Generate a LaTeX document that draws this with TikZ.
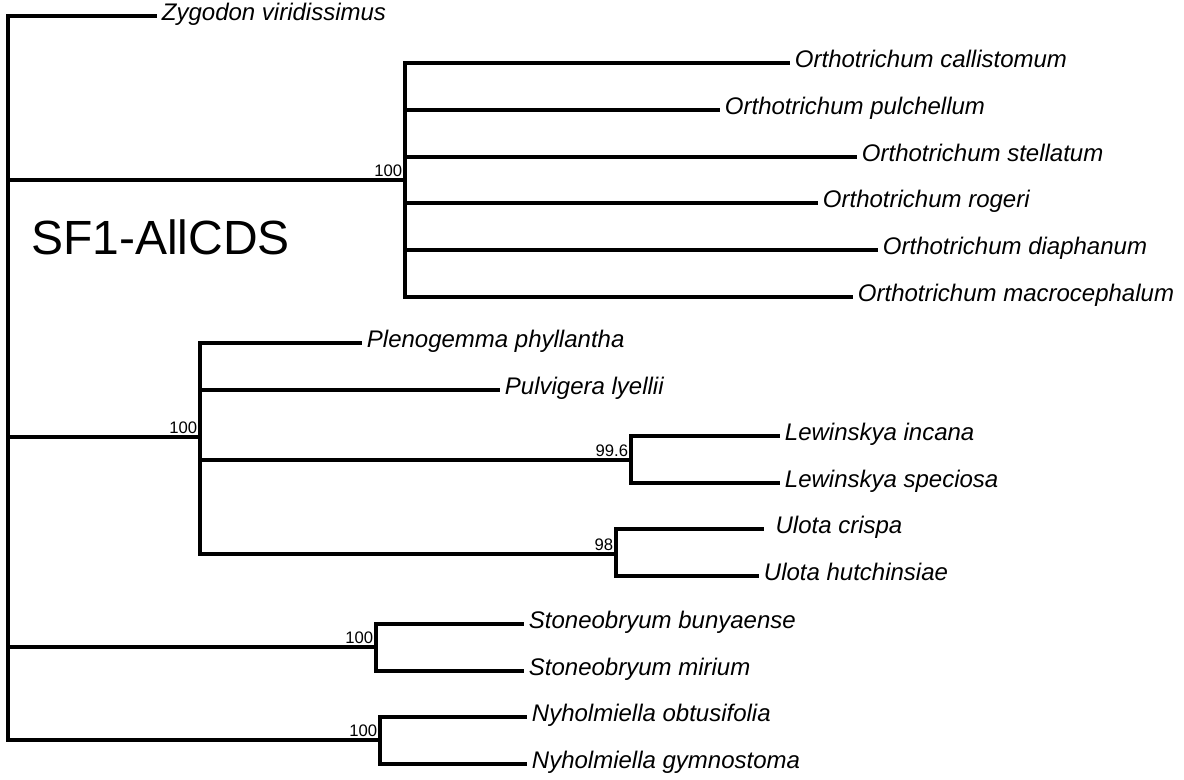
\documentclass[tikz,border=0pt]{standalone}
\usepackage{fontspec}
\setmainfont{Liberation Sans}
\usetikzlibrary{positioning}
\tikzset{
  branch/.style={line width=2.6pt, line join=miter},
  taxon/.style={anchor=west, inner sep=3.5pt, text height=0.75em, text depth=0.03em, font=\fontsize{18}{21}\selectfont\itshape},
  support/.style={anchor=south east, inner sep=2pt, font=\fontsize{12.5}{14}\selectfont},
  setname/.style={anchor=west, inner sep=0pt, font=\fontsize{36}{42}\selectfont}
}

\begin{document}
\begin{tikzpicture}[x=0.75pt, y=-0.75pt]
  \useasboundingbox (0,0) rectangle (1184,780);

  % internal nodes
  \coordinate (root) at (8,378);
  \coordinate (nOrth) at (405,180);
  \coordinate (nCore) at (200,437);
  \coordinate (nLew) at (631,460);
  \coordinate (nUlo) at (616,554);
  \coordinate (nSto) at (376,647);
  \coordinate (nNyh) at (380,740);

  % tips
  \node[taxon] (zygo) at (157,16) {Zygodon viridissimus};
  \node[taxon] (callist) at (790,63) {Orthotrichum callistomum};
  \node[taxon] (pulch) at (720,110) {Orthotrichum pulchellum};
  \node[taxon] (stell) at (857,157) {Orthotrichum stellatum};
  \node[taxon] (roger) at (818,203) {Orthotrichum rogeri};
  \node[taxon] (diaph) at (878,250) {Orthotrichum diaphanum};
  \node[taxon] (macro) at (853,297) {Orthotrichum macrocephalum};
  \node[taxon] (pleno) at (362,343) {Plenogemma phyllantha};
  \node[taxon] (pulvi) at (500,390) {Pulvigera lyellii};
  \node[taxon] (lewInc) at (780,436) {Lewinskya incana};
  \node[taxon] (lewSpe) at (780,483) {Lewinskya speciosa};
  \node[taxon] (uloCri) at (764,529) {\ Ulota crispa};
  \node[taxon] (uloHut) at (759,576) {Ulota hutchinsiae};
  \node[taxon] (stoBun) at (524,624) {Stoneobryum bunyaense};
  \node[taxon] (stoMir) at (524,671) {Stoneobryum mirium};
  \node[taxon] (nyhObt) at (527,717) {Nyholmiella obtusifolia};
  \node[taxon] (nyhGym) at (527,764) {Nyholmiella gymnostoma};

  \node[setname] (title) at (31,237) {SF1-AllCDS};

  % branches
  \draw[branch] (root) |- (zygo.west);
  \foreach \n in {nOrth,nCore,nSto,nNyh}
    \draw[branch] (root) |- (\n);
  \foreach \t in {callist,pulch,stell,roger,diaph,macro}
    \draw[branch] (nOrth) |- (\t.west);
  \draw[branch] (nCore) |- (pleno.west);
  \draw[branch] (nCore) |- (pulvi.west);
  \draw[branch] (nCore) |- (nLew);
  \draw[branch] (nCore) |- (nUlo);
  \draw[branch] (nLew) |- (lewInc.west);
  \draw[branch] (nLew) |- (lewSpe.west);
  \draw[branch] (nUlo) |- (uloCri.west);
  \draw[branch] (nUlo) |- (uloHut.west);
  \draw[branch] (nSto) |- (stoBun.west);
  \draw[branch] (nSto) |- (stoMir.west);
  \draw[branch] (nNyh) |- (nyhObt.west);
  \draw[branch] (nNyh) |- (nyhGym.west);

  % support values
  \node[support] (bOrth) at (nOrth) {100};
  \node[support] (bCore) at (nCore) {100};
  \node[support] (bLew) at (nLew) {99.6};
  \node[support] (bUlo) at (nUlo) {98};
  \node[support] (bSto) at (nSto) {100};
  \node[support] (bNyh) at (nNyh) {100};
\end{tikzpicture}
\end{document}
